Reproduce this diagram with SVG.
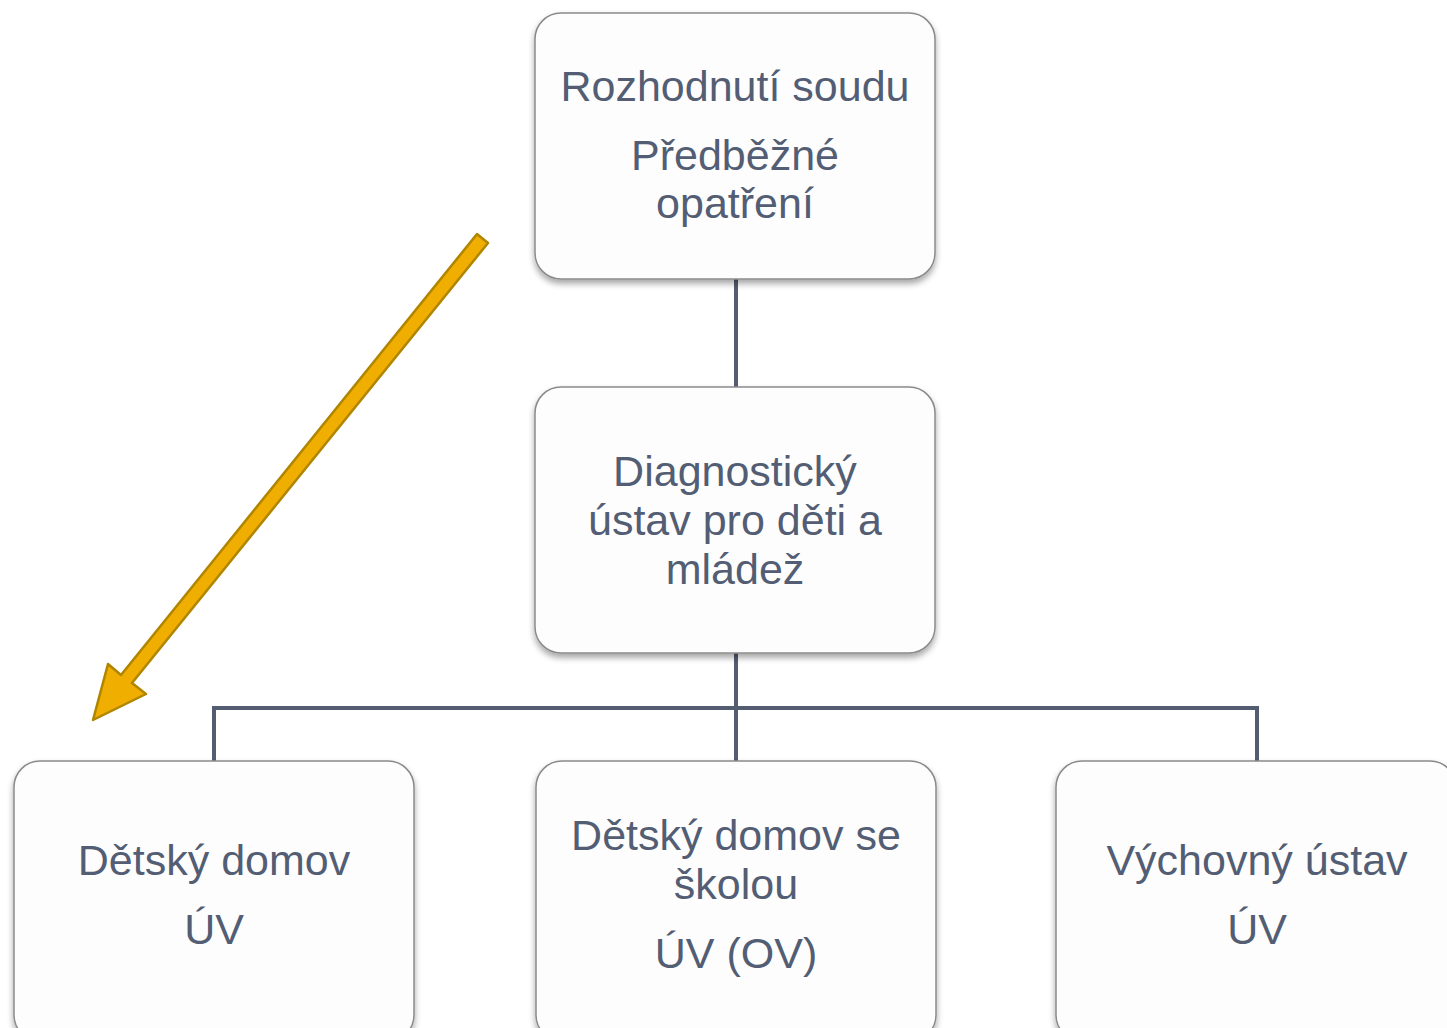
<svg xmlns="http://www.w3.org/2000/svg" width="1447" height="1028" viewBox="0 0 1447 1028">
<style>
.box{fill:#fdfdfd;stroke:#8a8a8a;stroke-width:1.5;filter:url(#sh)}
.t{font-family:"Liberation Sans",Arial,sans-serif;font-size:43px;fill:#535d74;text-anchor:middle}
.c{stroke:#535c70;stroke-width:4;fill:none}
</style>
<defs>
<filter id="sh" x="-10%" y="-10%" width="120%" height="130%">
<feDropShadow dx="0" dy="4" stdDeviation="3" flood-color="#000" flood-opacity="0.35"/>
</filter>
</defs>
<rect width="1447" height="1028" fill="#ffffff"/>
<g id="connectors">
<line class="c" x1="736" y1="279" x2="736" y2="387"/>
<line class="c" x1="736" y1="653" x2="736" y2="761"/>
<polyline class="c" points="214,761 214,708 1257,708 1257,761"/>
</g>
<g id="n1">
<rect class="box" x="535" y="13" width="400" height="266" rx="26"/>
<text class="t" x="735" y="101">Rozhodnutí soudu</text>
<text class="t" x="735" y="170">Předběžné</text>
<text class="t" x="735" y="218">opatření</text>
</g>
<g id="n2">
<rect class="box" x="535" y="387" width="400" height="266" rx="26"/>
<text class="t" x="735" y="486">Diagnostický</text>
<text class="t" x="735" y="535">ústav pro děti a</text>
<text class="t" x="735" y="584">mládež</text>
</g>
<g id="n3">
<rect class="box" x="14" y="761" width="400" height="280" rx="26"/>
<text class="t" x="214" y="875">Dětský domov</text>
<text class="t" x="214" y="944">ÚV</text>
</g>
<g id="n4">
<rect class="box" x="536" y="761" width="400" height="280" rx="26"/>
<text class="t" x="736" y="850">Dětský domov se</text>
<text class="t" x="736" y="899">školou</text>
<text class="t" x="736" y="968">ÚV (OV)</text>
</g>
<g id="n5">
<rect class="box" x="1056" y="761" width="400" height="280" rx="26"/>
<text class="t" x="1257" y="875">Výchovný ústav</text>
<text class="t" x="1257" y="944">ÚV</text>
</g>
<g id="arrow">
<polygon points="477,234 488,243 132,683 146,694 93,720 108,664 121,675" fill="#f0ae00" stroke="#b08500" stroke-width="2.5" stroke-linejoin="round"/>
</g>
</svg>
